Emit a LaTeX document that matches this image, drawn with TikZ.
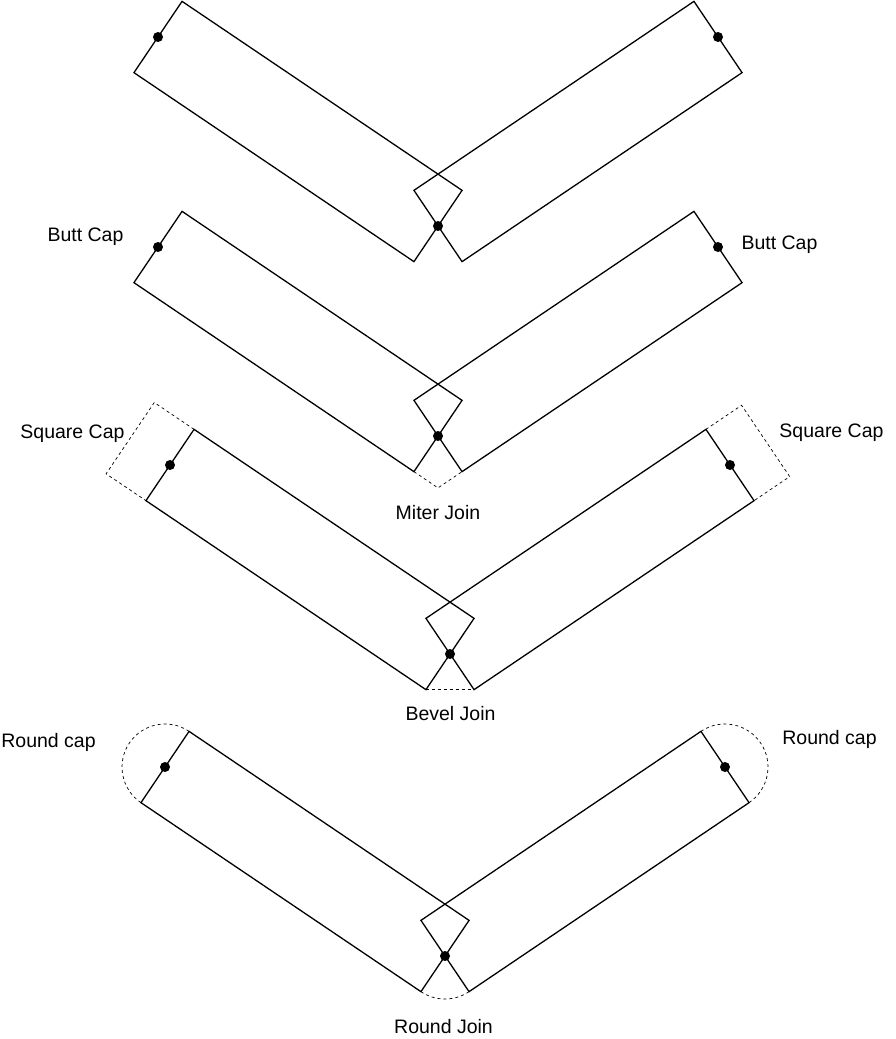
\documentclass[tikz,border=0pt]{standalone}
\usepackage{fontspec}
\setmainfont{Liberation Sans}
\usepackage{tikz}
\newcommand{\lbsize}{\fontsize{19.5}{22}\selectfont}

\begin{document}
\begin{tikzpicture}[x=1pt,y=-1pt,
   arm/.style={line width=1.3pt,line join=miter},
   ghost/.style={line width=0.7pt,dash pattern=on 3pt off 3pt},
   lbl/.style={font=\lbsize,anchor=base,inner sep=0pt}]
   \useasboundingbox (0,0) rectangle (895,1039);
   % the four strokes, one per join point
   \foreach \n/\x/\y in {1/438/226,2/438/436,3/450/654,4/445/956}{
    \begin{scope}[shift={(\x,\y)}]
     \coordinate (J\n) at (0,0);
     \draw[arm] (-255.94,-224.64) -- (-304.06,-153.36) -- (-24.06,35.64) -- (24.06,-35.64) -- cycle;
     \draw[arm] (255.94,-224.64) -- (304.06,-153.36) -- (24.06,35.64) -- (-24.06,-35.64) -- cycle;
     \fill (0,0) circle (5pt) (-280,-189) circle (5pt) (280,-189) circle (5pt);
    \end{scope}}
   % miter join
   \draw[ghost,shift={(J2)}] (-24.06,35.64) -- (0,51.9) -- (24.06,35.64);
   % square caps and bevel join
   \draw[ghost,shift={(J3)}] (-255.94,-224.64) -- (-295.7,-251.5) -- (-343.9,-180.2) -- (-304.06,-153.36);
   \draw[ghost,shift={(J3)}] (255.94,-224.64) -- (291.6,-248.7) -- (339.7,-177.4) -- (304.06,-153.36);
   \draw[ghost,shift={(J3)}] (-24.06,35.64) -- (24.06,35.64);
   % round caps and round join
   \draw[ghost,shift={(J4)}] (-255.94,-224.64) arc[start angle=-56,end angle=-236,radius=43];
   \draw[ghost,shift={(J4)}] (255.94,-224.64) arc[start angle=-124,end angle=56,radius=43];
   \draw[ghost,shift={(J4)}] (-24.06,35.64) arc[start angle=124,end angle=56,radius=43];
   % labels
   \node[lbl] (buttL) at (85.5,241.7) {Butt Cap};
   \node[lbl] (buttR) at (779.5,249) {Butt Cap};
   \node[lbl] (miter) at (438,519) {Miter Join};
   \node[lbl] (squareL) at (72.5,438) {Square Cap};
   \node[lbl] (squareR) at (831.5,437) {Square Cap};
   \node[lbl] (bevel) at (450.5,720.7) {Bevel Join};
   \node[lbl] (roundL) at (48.5,747) {Round cap};
   \node[lbl] (roundR) at (829.5,744) {Round cap};
   \node[lbl] (roundJ) at (443.5,1033) {Round Join};
\end{tikzpicture}
\end{document}
